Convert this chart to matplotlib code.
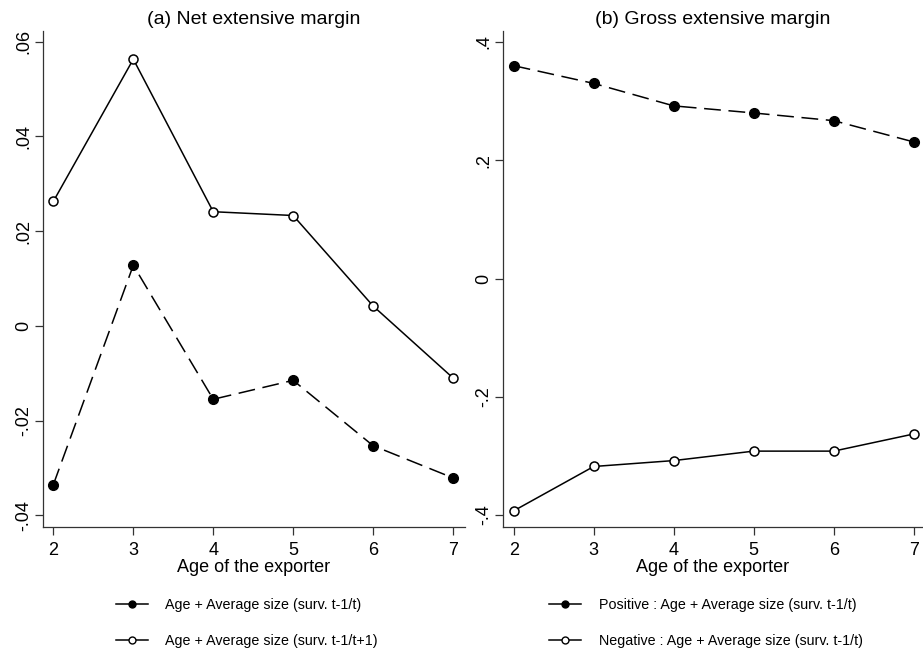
import numpy as np
import matplotlib.pyplot as plt
from matplotlib.lines import Line2D

plt.rcParams['font.family'] = ['Liberation Sans', 'DejaVu Sans']

# data
age = [2, 3, 4, 5, 6, 7]
net_surv_t = [-0.0335, 0.0128, -0.0155, -0.0115, -0.0253, -0.0321]
net_surv_t1 = [0.0263, 0.0563, 0.0241, 0.0233, 0.0042, -0.0110]
gross_pos = [0.360, 0.330, 0.292, 0.280, 0.267, 0.231]
gross_neg = [-0.393, -0.318, -0.308, -0.292, -0.292, -0.263]

net_yticks = [-0.04, -0.02, 0, 0.02, 0.04, 0.06]
net_ylabels = ['-.04', '-.02', '0', '.02', '.04', '.06']
gross_yticks = [-0.4, -0.2, 0, 0.2, 0.4]
gross_ylabels = ['-.4', '-.2', '0', '.2', '.4']

W, H = 923, 655
fig = plt.figure(figsize=(W / 100, H / 100), dpi=100)


def px_axes(x0, x1, y0, y1):
    return fig.add_axes([x0 / W, 1 - y1 / H, (x1 - x0) / W, (y1 - y0) / H])


dash = (0, (11, 5))


def style(ax, yticks, ylabels):
    for s in ['top', 'right']:
        ax.spines[s].set_visible(False)
    for s in ['left', 'bottom']:
        ax.spines[s].set_linewidth(0.9)
        ax.spines[s].set_color('#333333')
    ax.set_xticks(age)
    ax.set_yticks(yticks)
    ax.set_yticklabels(ylabels, rotation=90, va='center')
    ax.tick_params(length=5.5, width=0.9, color='#333333', labelsize=13)
    ax.tick_params(axis='x', pad=5.5)
    ax.tick_params(axis='y', pad=2)
    ax.set_xlabel('Age of the exporter', fontsize=13, labelpad=0.5)


# (a) net extensive margin
ax1 = px_axes(43, 465, 30.5, 526.5)
ax1.plot(age, net_surv_t1, color='black', lw=1.1, marker='o', ms=6.5,
         mfc='white', mec='black', mew=1.1)
ax1.plot(age, net_surv_t, color='black', lw=1.1, ls=dash, marker='o', ms=7,
         mfc='black', mec='black')
ax1.set_xlim(1.87, 7.15)
ax1.set_ylim(-0.04236, 0.06236)
style(ax1, net_yticks, net_ylabels)
ax1.set_title('(a) Net extensive margin', fontsize=14, pad=4.8)

# (b) gross extensive margin
ax2 = px_axes(502.7, 923, 30.5, 526.5)
ax2.plot(age, gross_pos, color='black', lw=1.1, ls=dash, marker='o', ms=7,
         mfc='black', mec='black')
ax2.plot(age, gross_neg, color='black', lw=1.1, marker='o', ms=6.5,
         mfc='white', mec='black', mew=1.1)
ax2.set_xlim(1.8625, 7.116)
ax2.set_ylim(-0.4195, 0.4195)
style(ax2, gross_yticks, gross_ylabels)
ax2.set_title('(b) Gross extensive margin', fontsize=14, pad=4.8)

# legends (solid line samples, small markers)
h_fill = Line2D([], [], color='black', lw=1.1, marker='o', ms=5, mfc='black', mec='black')
h_open = Line2D([], [], color='black', lw=1.1, marker='o', ms=5, mfc='white', mec='black')

leg_kw = dict(frameon=False, fontsize=10.3, handlelength=2.25, handletextpad=1.2,
              labelspacing=1.52, borderpad=0, borderaxespad=0, loc='upper left',
              bbox_transform=fig.transFigure)
ax1.legend([h_fill, h_open],
           ['Age + Average size (surv. t-1/t)', 'Age + Average size (surv. t-1/t+1)'],
           bbox_to_anchor=(116 / W, 1 - 598 / H), **leg_kw)
ax2.legend([h_fill, h_open],
           ['Positive : Age + Average size (surv. t-1/t)',
            'Negative : Age + Average size (surv. t-1/t)'],
           bbox_to_anchor=(549.3 / W, 1 - 598 / H), **leg_kw)

fig.savefig('out.png', dpi=100)
